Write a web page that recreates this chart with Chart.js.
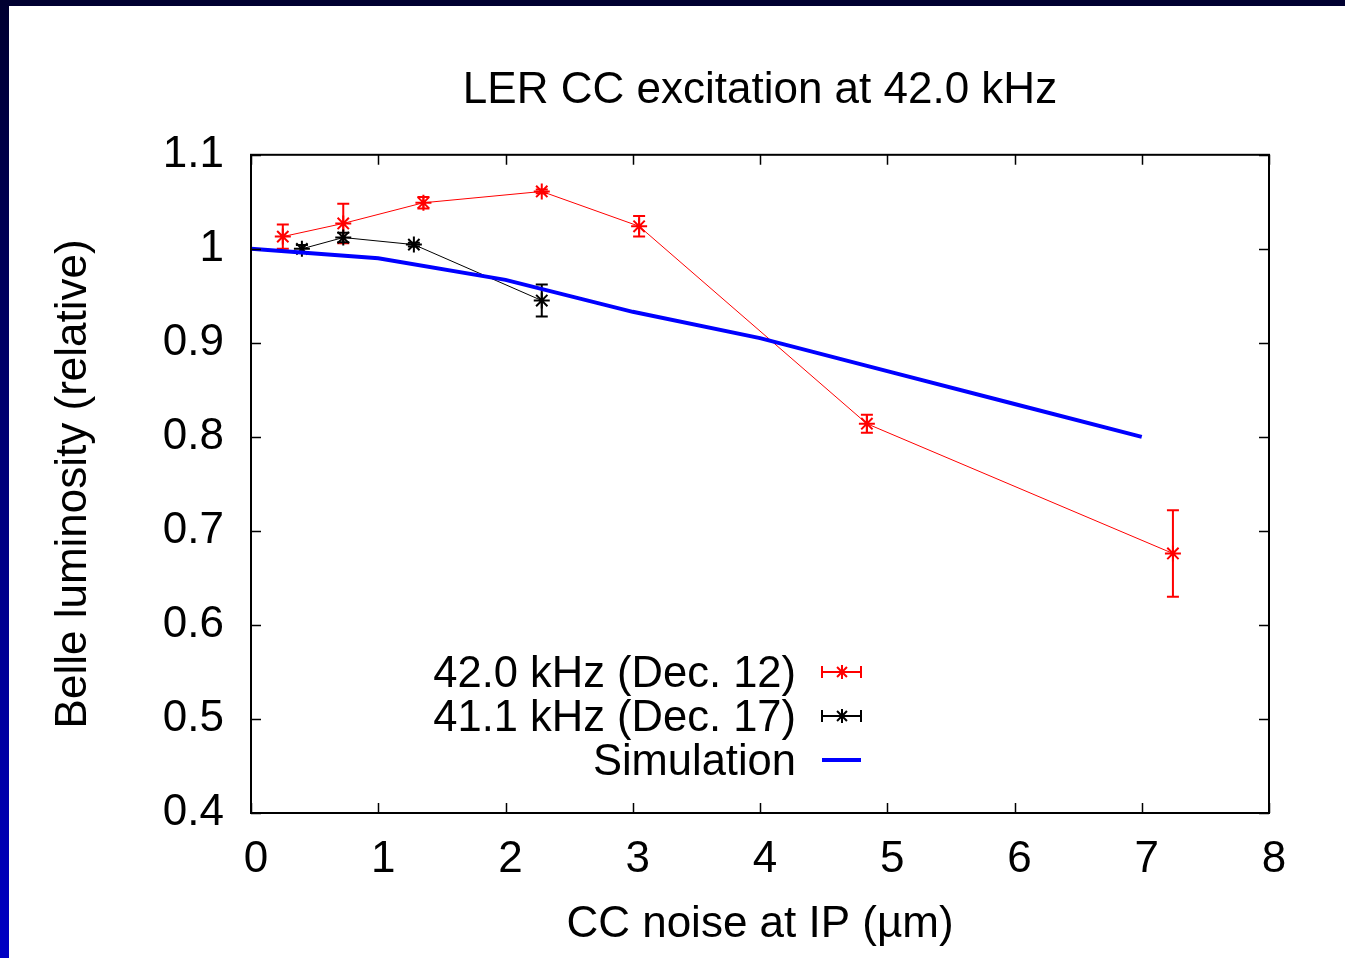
<!DOCTYPE html>
<html>
<head>
<meta charset="utf-8">
<title>LER CC excitation at 42.0 kHz</title>
<script src="https://cdn.jsdelivr.net/npm/chart.js@4.4.1/dist/chart.umd.min.js"></script>
<style>
  html, body { margin: 0; padding: 0; }
  body {
    width: 1345px;
    height: 958px;
    overflow: hidden;
    background: linear-gradient(to bottom, #000030, #0000c4);
  }
  #sheet {
    position: absolute;
    left: 9px;
    top: 6px;
    width: 1336px;
    height: 952px;
    background: #ffffff;
  }
</style>
</head>
<body>
<div id="sheet"><canvas id="lumChart" width="1336" height="952"></canvas></div>
<script>
// Values
const dec12X = [0.25, 0.725, 1.355, 2.285, 3.05, 4.84, 7.245];
const dec12Y = [1.013, 1.027, 1.049, 1.061, 1.024, 0.814, 0.676];
const dec12Err = [0.013, 0.021, 0.006, 0.002, 0.011, 0.0095, 0.046];

const dec17X = [0.4, 0.725, 1.28, 2.285];
const dec17Y = [1.0, 1.012, 1.0045, 0.945];
const dec17Err = [0.004, 0.005, 0.002, 0.017];

const simX = [0, 1, 2, 3, 4, 5, 6, 7];
const simY = [1.0, 0.990, 0.967, 0.933, 0.905, 0.870, 0.835, 0.800];

const seriesLabels = ["42.0 kHz (Dec. 12)", "41.1 kHz (Dec. 17)", "Simulation"];

const FONT = "'Liberation Sans', Arial, Helvetica, sans-serif";
const FONT_SIZE = 44;

function toPoints(xs, ys) {
  return xs.map((x, i) => ({ x: x, y: ys[i] }));
}

// gnuplot style "*" marker (plus + cross)
function drawStar(ctx, x, y, r) {
  const d = r * Math.SQRT1_2;
  ctx.beginPath();
  ctx.moveTo(x - r, y); ctx.lineTo(x + r, y);
  ctx.moveTo(x, y - r); ctx.lineTo(x, y + r);
  ctx.moveTo(x - d, y - d); ctx.lineTo(x + d, y + d);
  ctx.moveTo(x - d, y + d); ctx.lineTo(x + d, y - d);
  ctx.stroke();
}

// vertical error bars, drawn right after their own dataset
const errorBars = {
  id: "errorBars",
  afterDatasetDraw(chart, args) {
    const ds = chart.data.datasets[args.index];
    if (!ds.errors) return;
    const xs = chart.scales.x;
    const ys = chart.scales.y;
    const ctx = chart.ctx;
    ctx.save();
    ctx.strokeStyle = ds.borderColor;
    ctx.lineWidth = 2;
    ds.data.forEach((pt, i) => {
      const px = xs.getPixelForValue(pt.x);
      const top = ys.getPixelForValue(pt.y + ds.errors[i]);
      const bot = ys.getPixelForValue(pt.y - ds.errors[i]);
      ctx.beginPath();
      ctx.moveTo(px, top); ctx.lineTo(px, bot);
      ctx.moveTo(px - 6, top); ctx.lineTo(px + 6, top);
      ctx.moveTo(px - 6, bot); ctx.lineTo(px + 6, bot);
      ctx.stroke();
    });
    ctx.restore();
  },
};

// border box with inward tick marks on all four sides
const frameTicks = {
  id: "frameTicks",
  afterDraw(chart) {
    const { ctx, chartArea: a } = chart;
    const xs = chart.scales.x;
    const ys = chart.scales.y;
    const len = 10;
    ctx.save();
    ctx.strokeStyle = "#000";
    ctx.lineWidth = 1.5;
    ctx.beginPath();
    xs.ticks.forEach((t) => {
      const px = Math.round(xs.getPixelForValue(t.value)) + 0.5;
      ctx.moveTo(px, a.bottom); ctx.lineTo(px, a.bottom - len);
      ctx.moveTo(px, a.top); ctx.lineTo(px, a.top + len);
    });
    ys.ticks.forEach((t) => {
      const py = Math.round(ys.getPixelForValue(t.value)) + 0.5;
      ctx.moveTo(a.left, py); ctx.lineTo(a.left + len, py);
      ctx.moveTo(a.right, py); ctx.lineTo(a.right - len, py);
    });
    ctx.stroke();
    ctx.lineWidth = 2;
    ctx.strokeRect(a.left, a.top, a.right - a.left, a.bottom - a.top);
    ctx.restore();
  },
};

// key inside the plot: text right aligned, sample to the right
const keyBox = {
  id: "keyBox",
  afterDraw(chart) {
    const ctx = chart.ctx;
    const textRight = 787;
    const x0 = 813, x1 = 852, xm = 833;
    ctx.save();
    ctx.font = "43.5px " + FONT;
    ctx.textAlign = "right";
    ctx.textBaseline = "middle";
    chart.data.datasets.forEach((ds, i) => {
      const y = 666 + i * 44;
      ctx.fillStyle = "#000";
      ctx.fillText(ds.label, textRight, y + 3);
      ctx.strokeStyle = ds.borderColor;
      if (ds.errors) {
        ctx.lineWidth = 2;
        ctx.beginPath();
        ctx.moveTo(x0, y); ctx.lineTo(x1, y);
        ctx.moveTo(x0, y - 6); ctx.lineTo(x0, y + 6);
        ctx.moveTo(x1, y - 6); ctx.lineTo(x1, y + 6);
        ctx.stroke();
        drawStar(ctx, xm, y, 7);
      } else {
        ctx.lineWidth = ds.borderWidth;
        ctx.beginPath();
        ctx.moveTo(x0, y); ctx.lineTo(x1, y);
        ctx.stroke();
      }
    });
    ctx.restore();
  },
};

Chart.defaults.font.family = FONT;
Chart.defaults.font.size = FONT_SIZE;
Chart.defaults.color = "#000";

const ctx = document.getElementById("lumChart").getContext("2d");
const lumChart = new Chart(ctx, {
  type: "scatter",
  data: {
    datasets: [
      {
        label: seriesLabels[0],
        data: toPoints(dec12X, dec12Y),
        errors: dec12Err,
        showLine: true,
        borderColor: "#ff0000",
        backgroundColor: "#ff0000",
        borderWidth: 1,
        pointStyle: "star",
        pointRadius: 8,
        pointBorderWidth: 2,
        order: 2,
      },
      {
        label: seriesLabels[1],
        data: toPoints(dec17X, dec17Y),
        errors: dec17Err,
        showLine: true,
        borderColor: "#000000",
        backgroundColor: "#000000",
        borderWidth: 1,
        pointStyle: "star",
        pointRadius: 8,
        pointBorderWidth: 2,
        order: 1,
      },
      {
        label: seriesLabels[2],
        data: toPoints(simX, simY),
        showLine: true,
        borderColor: "#0000ff",
        backgroundColor: "#0000ff",
        borderWidth: 4,
        pointRadius: 0,
        order: 0,
      },
    ],
  },
  options: {
    responsive: false,
    animation: false,
    layout: {
      padding: { top: 0, right: 76, bottom: 0, left: 0 },
    },
    plugins: {
      legend: { display: false },
      tooltip: { enabled: false },
      title: {
        display: true,
        fullSize: false,
        text: "LER CC excitation at 42.0 kHz",
        color: "#000",
        font: { size: FONT_SIZE, weight: "normal" },
        padding: { top: 58, bottom: 38 },
      },
    },
    scales: {
      x: {
        type: "linear",
        min: 0,
        max: 8,
        grid: { display: false, drawTicks: false },
        border: { display: false },
        ticks: {
          stepSize: 1,
          padding: 20,
          labelOffset: 5,
          maxRotation: 0,
        },
        title: {
          display: true,
          text: "CC noise at IP (\u00b5m)",
          padding: { top: 0, bottom: 7 },
        },
        afterFit(scale) {
          scale.height = 145;
        },
      },
      y: {
        type: "linear",
        min: 0.4,
        max: 1.1,
        grid: { display: false, drawTicks: false },
        border: { display: false },
        ticks: {
          stepSize: 0.1,
          padding: 27,
          callback: (v) => String(Math.round(v * 10) / 10),
        },
        title: {
          display: true,
          text: "Belle luminosity (relative)",
          padding: { top: 38, bottom: 0 },
        },
        afterFit(scale) {
          scale.width = 242;
        },
      },
    },
  },
  plugins: [errorBars, frameTicks, keyBox],
});
</script>
</body>
</html>
